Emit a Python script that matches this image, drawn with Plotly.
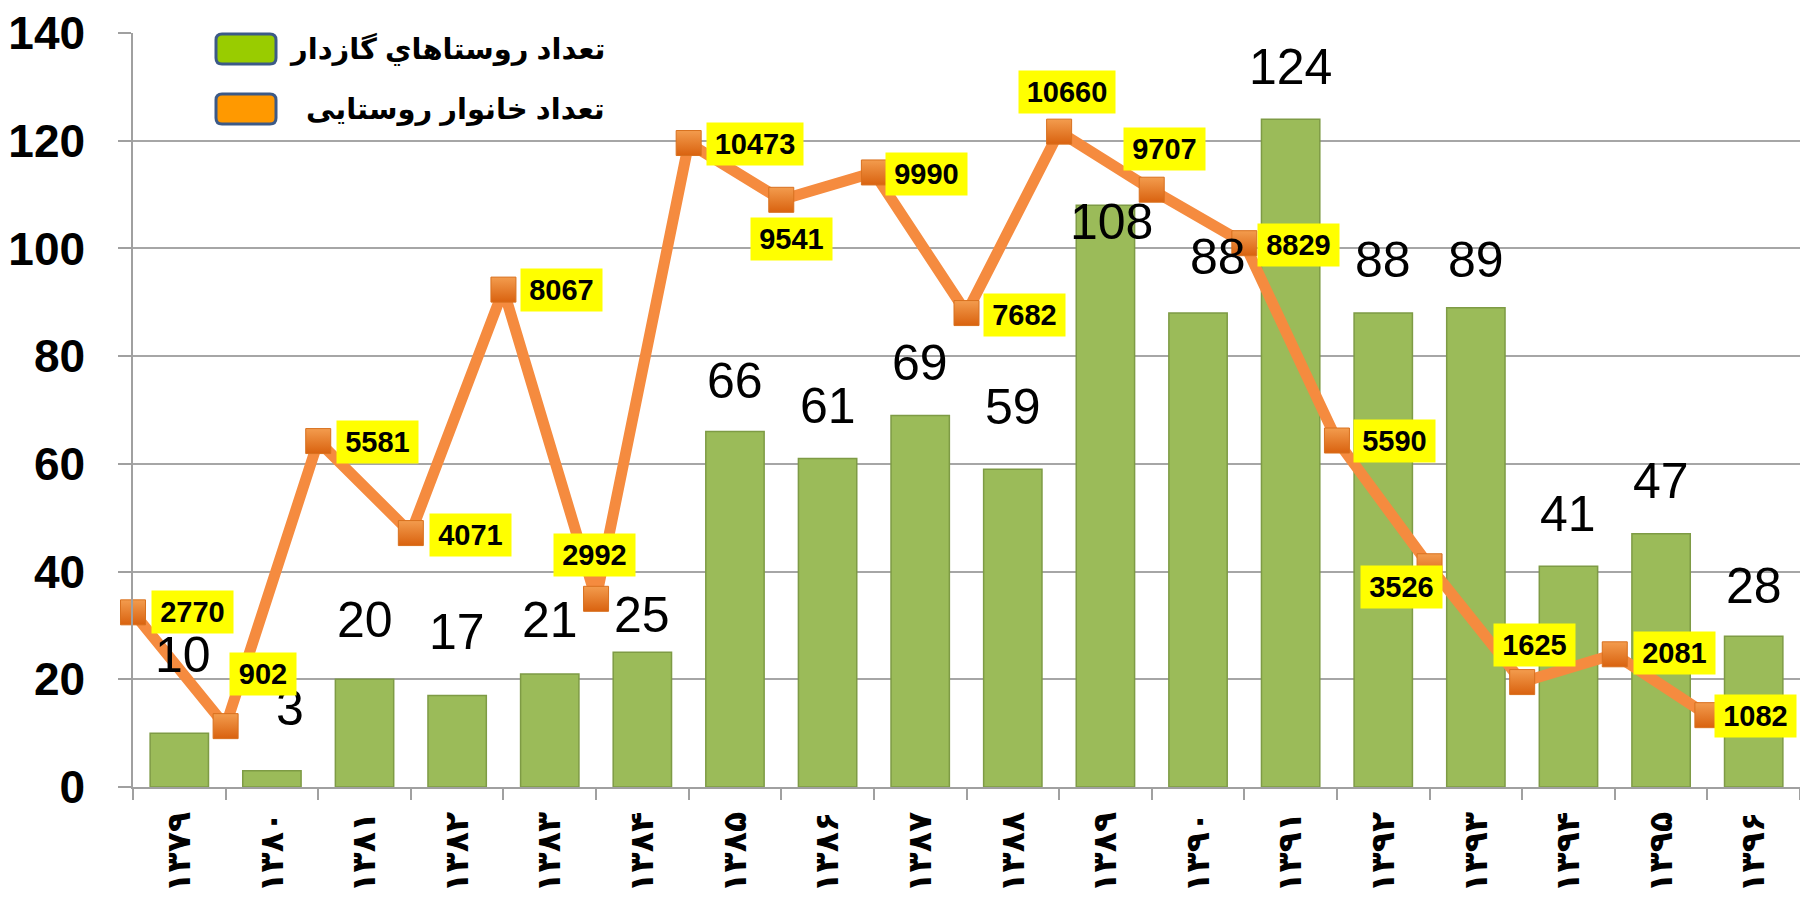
import plotly.graph_objects as go

# data
years = ["۱۳۷۹", "۱۳۸۰", "۱۳۸۱", "۱۳۸۲", "۱۳۸۳", "۱۳۸۴", "۱۳۸۵", "۱۳۸۶", "۱۳۸۷",
         "۱۳۸۸", "۱۳۸۹", "۱۳۹۰", "۱۳۹۱", "۱۳۹۲", "۱۳۹۳", "۱۳۹۴", "۱۳۹۵", "۱۳۹۶"]
villages = [10, 3, 20, 17, 21, 25, 66, 61, 69, 59, 108, 88, 124, 88, 89, 41, 47, 28]
households = [2770, 902, 5581, 4071, 8067, 2992, 10473, 9541, 9990, 7682,
              10660, 9707, 8829, 5590, 3526, 1625, 2081, 1082]
legend_names = ["تعداد روستاهاي گازدار", "تعداد خانوار روستایی"]

# label placement (pixels)
hh_shift = [(59, 0), (37, -52), (59, 1), (60, 2), (58, 0), (-2, -44), (66, 1), (10, 39),
            (53, 2), (58, 2), (8, -40), (13, -41), (54, 2), (58, 0), (-28, 21), (12, -37),
            (60, -1), (48, 1)]
bar_gap = [50, 35, 31, 35, 26, 9, 23, 24, 24, 34, -45, 28, 24, 25, 20, 24, 25, 22]
bar_dx = [4, 18, 0, 0, 0, 0, 0, 0, 0, 0, 6, 20, 0, 0, 0, 0, 0, 0]

W, H = 1800, 905
L, R, T, B = 133, 0, 33, 118
PW, PH = W - L - R, H - T - B

BOLD = dict(family="Liberation Sans, Arial, DejaVu Sans", weight="bold", color="black")


def px(x):
    return (x - L) / PW


def py(y):
    return (T + PH - y) / PH


fig = go.Figure()

fig.add_trace(go.Bar(
    x=years, y=villages, name=legend_names[0], showlegend=False,
    marker=dict(color="#9BBB59", line=dict(color="#7E9B45", width=1.5)),
    width=0.63,
))

fig.add_trace(go.Scatter(
    x=list(range(len(households))), y=households, name=legend_names[1],
    xaxis="x2", yaxis="y2", mode="lines+markers", showlegend=False,
    line=dict(color="#F58B3F", width=11),
    marker=dict(symbol="square", size=25, color="#F39C4E",
                gradient=dict(type="vertical", color="#D9620F"),
                line=dict(color="#D8701E", width=1)),
    cliponaxis=False,
))

ann = []
for i, v in enumerate(villages):
    ann.append(dict(x=years[i], y=v, xref="x", yref="y", text=str(v), showarrow=False,
                    yanchor="bottom", xshift=bar_dx[i], yshift=bar_gap[i] - 2,
                    font=dict(family="Liberation Sans, Arial", size=50, color="black")))

for i, v in enumerate(households):
    s = str(v)
    dx, dy = hh_shift[i]
    ann.append(dict(x=i, y=v, xref="x2", yref="y2", text=s, showarrow=False,
                    xshift=dx, yshift=-dy, bgcolor="#FFFF00", borderpad=4,
                    width=15 * len(s) + 13, height=34,
                    font=dict(size=29, **BOLD)))

# manual legend
shapes = []
swatch_cols = ["#99CC00", "#FF9900"]
rows = [(34, 64), (94, 124)]
for (y0, y1), col, name in zip(rows, swatch_cols, legend_names):
    x0, x1, r = 216, 276, 6
    path = (f"M {px(x0 + r)} {py(y0)} L {px(x1 - r)} {py(y0)} Q {px(x1)} {py(y0)} {px(x1)} {py(y0 + r)} "
            f"L {px(x1)} {py(y1 - r)} Q {px(x1)} {py(y1)} {px(x1 - r)} {py(y1)} "
            f"L {px(x0 + r)} {py(y1)} Q {px(x0)} {py(y1)} {px(x0)} {py(y1 - r)} "
            f"L {px(x0)} {py(y0 + r)} Q {px(x0)} {py(y0)} {px(x0 + r)} {py(y0)} Z")
    shapes.append(dict(type="path", path=path, xref="paper", yref="paper",
                       fillcolor=col, line=dict(color="#3C5A87", width=3)))
    ann.append(dict(x=px(607), y=py((y0 + y1) / 2), xref="paper", yref="paper", text=name,
                    showarrow=False, xanchor="right", yanchor="middle",
                    font=dict(size=29, **BOLD)))

fig.update_layout(
    width=W, height=H,
    margin=dict(l=L, r=R, t=T, b=B, autoexpand=False),
    plot_bgcolor="white", paper_bgcolor="white",
    bargap=0.37,
    xaxis=dict(
        type="category", range=[-0.5, len(years) - 0.5], tickson="boundaries",
        ticks="outside", ticklen=11, tickcolor="#A0A0A0", tickwidth=1.5,
        showline=True, linecolor="#A0A0A0", linewidth=1.5, showgrid=False,
        tickangle=-90, ticklabelstandoff=10, automargin=False,
        tickfont=dict(family="DejaVu Sans", size=33, weight="bold", color="black"),
    ),
    xaxis2=dict(overlaying="x", range=[0, len(years)], visible=False),
    yaxis=dict(
        range=[0, 140], dtick=20, showgrid=True, gridcolor="#A6A6A6", gridwidth=1.5,
        ticks="outside", ticklen=13, tickcolor="#A0A0A0", tickwidth=1.5,
        showline=True, linecolor="#A0A0A0", linewidth=1.5, zeroline=False,
        ticklabelstandoff=24, automargin=False,
        tickfont=dict(size=46, **BOLD),
    ),
    yaxis2=dict(overlaying="y", range=[-97, 12279], visible=False),
    annotations=ann,
    shapes=shapes,
)

fig.write_html("out.html", config={"displayModeBar": False},
               post_script="document.body.style.margin='0';document.body.style.overflow='hidden';")
